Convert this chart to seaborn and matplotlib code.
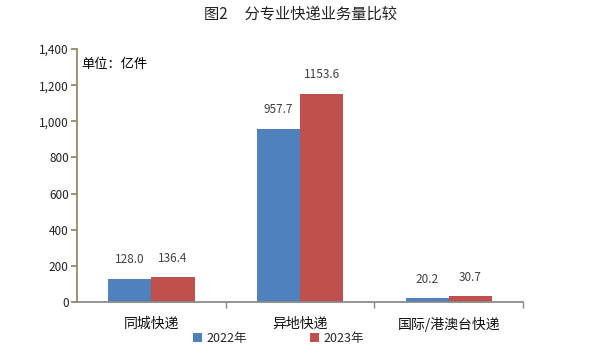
import matplotlib

matplotlib.use("Agg")

import matplotlib.pyplot as plt
import pandas as pd
import seaborn as sns
from matplotlib.ticker import FuncFormatter, FixedLocator

CATEGORIES = ["同城快递", "异地快递", "国际/港澳台快递"]
YEARS = ["2022年", "2023年"]
VALUES_2022 = [128.0, 957.7, 20.2]
VALUES_2023 = [136.4, 1153.6, 30.7]
COLORS = ["#4F81BD", "#C0504D"]

sns.set_theme(style="white")
plt.rcParams["font.family"] = ["Noto Sans CJK SC", "DejaVu Sans"]

df = pd.DataFrame(
    {
        "category": CATEGORIES * 2,
        "year": [YEARS[0]] * 3 + [YEARS[1]] * 3,
        "value": VALUES_2022 + VALUES_2023,
    }
)

fig = plt.figure(figsize=(5.93, 3.56), dpi=100)
ax = fig.add_axes([0.130, 0.152, 0.752, 0.710])
sns.barplot(
    data=df, x="category", y="value", hue="year", palette=COLORS,
    width=0.58, gap=0, ax=ax, legend=True, saturation=1, linewidth=0,
)

ax.set_xlim(-0.5, 2.5)
ax.set_ylim(0, 1400)
ax.set_yticks(range(0, 1401, 200))
ax.yaxis.set_major_formatter(FuncFormatter(lambda v, _: f"{int(v):,}"))
ax.set_xlabel("")
ax.set_ylabel("")

for spine in ["top", "right"]:
    ax.spines[spine].set_visible(False)
ax.spines["left"].set_color("#8C8560")
ax.spines["bottom"].set_color("#868686")
ax.tick_params(axis="y", left=True, length=4, color="#8C8560", labelsize=8.5, labelcolor="#222222", pad=2)
ax.tick_params(axis="x", which="major", bottom=False, labelsize=10, labelcolor="#111111", pad=5)
ax.xaxis.set_minor_locator(FixedLocator([0.5, 1.5, 2.5]))
ax.tick_params(axis="x", which="minor", bottom=True, length=4, color="#868686")

for container in ax.containers:
    ax.bar_label(container, fmt="%.1f", padding=9, fontsize=8.5, color="#404040")

ax.text(0.01, 0.965, "单位：亿件", transform=ax.transAxes, fontsize=9.5, color="#000000", va="top")
ax.set_title("图2     分专业快递业务量比较", fontsize=11, color="#222222", fontweight="medium", y=1.0, pad=22)

handles, labels = ax.get_legend_handles_labels()
ax.legend_.remove()
fig.legend(
    handles, labels, loc="lower center", bbox_to_anchor=(0.47, 0.0), ncol=2,
    frameon=False, fontsize=9, handlelength=0.7, handleheight=0.7,
    columnspacing=5.0, handletextpad=0.4,
)

fig.savefig("out.png", dpi=100)
